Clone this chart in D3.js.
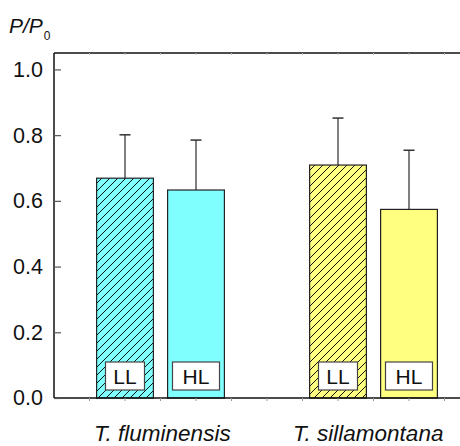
<!DOCTYPE html>
<html>
<head>
<meta charset="utf-8">
<script src="https://cdn.jsdelivr.net/npm/d3@7"></script>
<style>
  html, body { margin: 0; padding: 0; background: #fff; }
  svg { display: block; font-family: "Liberation Sans", Arial, sans-serif; }
</style>
</head>
<body>
<div id="chart"></div>
<script>
// Relative force P/P0 for two species under low (LL) and high (HL) light
const species = ["T. fluminensis", "T. sillamontana"];
const speciesPos = [3.05, 8.85];
const treatments = ["LL", "HL", "LL", "HL"];
const barPos = [2, 4, 8, 10];
const barMeans = [0.669, 0.633, 0.709, 0.574];
const barErrors = [0.132, 0.152, 0.143, 0.180];
const barColors = ["#80ffff", "#80ffff", "#ffff80", "#ffff80"];
const barHatched = [true, false, true, false];
const yTicks = [0.0, 0.2, 0.4, 0.6, 0.8, 1.0];

const W = 460, H = 446;
const plotLeft = 54, plotRight = 480, plotTop = 53, plotBottom = 398;

const svg = d3.select("#chart").append("svg")
  .attr("width", W).attr("height", H);

const x = d3.scaleLinear().domain([0, 12]).range([plotLeft, plotRight]);
const y = d3.scaleLinear().domain([0, 1.05]).range([plotBottom, plotTop]);
const barW = x(1.6) - x(0);

// Diagonal hatch pattern for LL bars
const defs = svg.append("defs");
barColors.forEach((c, i) => {
  if (!barHatched[i]) return;
  const p = defs.append("pattern")
    .attr("id", "hatch" + i)
    .attr("patternUnits", "userSpaceOnUse")
    .attr("width", 8).attr("height", 8);
  p.append("rect").attr("width", 8).attr("height", 8).attr("fill", c);
  p.append("path")
    .attr("d", "M-2,2 L2,-2 M0,8 L8,0 M6,10 L10,6")
    .attr("stroke", "#111").attr("stroke-width", 1);
});

const bars = d3.range(barMeans.length);

// Error bars (upper only)
const eb = svg.append("g");
eb.selectAll("line.v").data(bars).join("line")
  .attr("class", "v")
  .attr("x1", i => x(barPos[i])).attr("x2", i => x(barPos[i]))
  .attr("y1", i => y(barMeans[i])).attr("y2", i => y(barMeans[i] + barErrors[i]))
  .attr("stroke", "#555").attr("stroke-width", 1.5);
eb.selectAll("line.c").data(bars).join("line")
  .attr("class", "c")
  .attr("x1", i => x(barPos[i]) - 5.5).attr("x2", i => x(barPos[i]) + 5.5)
  .attr("y1", i => y(barMeans[i] + barErrors[i])).attr("y2", i => y(barMeans[i] + barErrors[i]))
  .attr("stroke", "#333").attr("stroke-width", 1.5);

// Bars
svg.append("g").selectAll("rect").data(bars).join("rect")
  .attr("x", i => x(barPos[i]) - barW / 2)
  .attr("y", i => y(barMeans[i]))
  .attr("width", barW)
  .attr("height", i => y(0) - y(barMeans[i]))
  .attr("fill", i => barHatched[i] ? `url(#hatch${i})` : barColors[i])
  .attr("stroke", "#222").attr("stroke-width", 1.2);

// Treatment label boxes inside bars
const lbl = svg.append("g").selectAll("g").data(bars).join("g")
  .attr("transform", i => `translate(${x(barPos[i])},376)`);
lbl.append("rect")
  .attr("x", i => treatments[i] === "LL" ? -19.5 : -23.5)
  .attr("width", i => treatments[i] === "LL" ? 39 : 47)
  .attr("y", -14).attr("height", 28)
  .attr("fill", "#fff").attr("stroke", "#444").attr("stroke-width", 1.2);
lbl.append("text")
  .attr("text-anchor", "middle").attr("y", 7.5)
  .attr("font-size", 21).attr("fill", "#111")
  .text(i => treatments[i]);

// Frame: left axis, bottom axis, top border
const frame = svg.append("g").attr("stroke", "#111").attr("stroke-width", 1.5).attr("fill", "none");
frame.append("line").attr("x1", plotLeft).attr("x2", plotLeft).attr("y1", plotTop).attr("y2", plotBottom);
frame.append("line").attr("x1", plotLeft).attr("x2", W).attr("y1", plotBottom).attr("y2", plotBottom);
frame.append("line").attr("x1", plotLeft).attr("x2", W).attr("y1", plotTop).attr("y2", plotTop);

// Faint minor ticks along the top and bottom borders
const minor = d3.range(1, 12);
svg.append("g").selectAll("line").data(minor).join("line")
  .attr("x1", d => x(d)).attr("x2", d => x(d))
  .attr("y1", plotBottom).attr("y2", plotBottom + 3)
  .attr("stroke", "#999").attr("stroke-width", 1);
svg.append("g").selectAll("line").data(minor).join("line")
  .attr("x1", d => x(d)).attr("x2", d => x(d))
  .attr("y1", plotTop).attr("y2", plotTop + 2)
  .attr("stroke", "#bbb").attr("stroke-width", 1);

// Y axis ticks (inward) and labels
const yAxis = d3.axisLeft(y).tickValues(yTicks).tickFormat(d3.format(".1f"))
  .tickSizeInner(-7).tickSizeOuter(0).tickPadding(18);
const ga = svg.append("g").attr("transform", `translate(${plotLeft},0)`).call(yAxis);
ga.select(".domain").remove();
ga.selectAll(".tick line").attr("stroke", "#555").attr("stroke-width", 1.2);
ga.selectAll(".tick text").attr("font-size", 21.5).attr("fill", "#111")
  .attr("font-family", "Liberation Sans, Arial, sans-serif")
  .attr("x", -11);

// Y axis title P/P0
const yt = svg.append("text").attr("x", 9).attr("y", 33)
  .attr("font-size", 21).attr("fill", "#111");
yt.append("tspan").attr("font-style", "italic").text("P/P");
yt.append("tspan").attr("font-size", 12).attr("dx", 1).attr("dy", 7).text("0");

// Species labels
svg.append("g").selectAll("text").data(species).join("text")
  .attr("x", (d, i) => x(speciesPos[i]))
  .attr("y", 441)
  .attr("text-anchor", "middle")
  .attr("font-size", 22.5).attr("font-style", "italic").attr("fill", "#111")
  .text(d => d);
</script>
</body>
</html>
